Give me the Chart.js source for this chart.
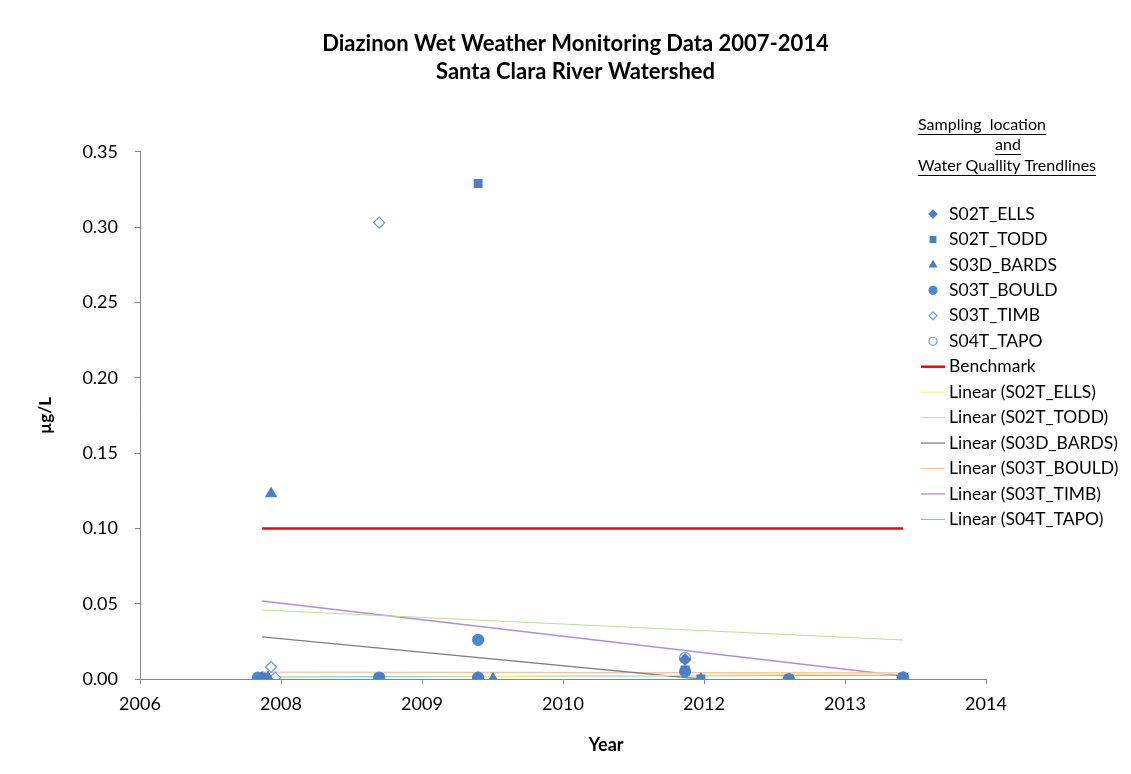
<!DOCTYPE html>
<html>
<head>
<meta charset="utf-8">
<script src="https://cdn.jsdelivr.net/npm/chart.js@4"></script>
<style>
  html, body { margin: 0; padding: 0; background: #fff; }
  #wrap { width: 1131px; height: 774px; position: relative; }
</style>
</head>
<body>
<div id="wrap"><canvas id="grafica"></canvas></div>
<script>
// x values are Excel date serials (days), y values in ug/L
var xTickValues = [39000, 39500, 40000, 40500, 41000, 41500, 42000];
var xTickLabels = ['2006', '2008', '2009', '2010', '2012', '2013', '2014'];

var ellsX = [39433, 40199, 40933];
var ellsY = [0.001, 0.001, 0.013];

var toddX = [39443, 39848, 40199, 40933, 40989, 41301, 41706];
var toddY = [0.001, 0.001, 0.329, 0.006, 0.000, 0.000, 0.001];

var bardsX = [39454, 39465, 40252, 40989];
var bardsY = [0.001, 0.123, 0.000, 0.000];

var bouldX = [39418, 39848, 40199, 40199, 40933, 41301, 41706];
var bouldY = [0.001, 0.001, 0.026, 0.001, 0.005, 0.000, 0.001];

var timbX = [39465, 39479, 39848, 41706];
var timbY = [0.008, 0.001, 0.303, 0.001];

var tapoX = [39433, 40933, 41706];
var tapoY = [0.001, 0.014, 0.001];

// benchmark and Excel linear trendlines (end points)
var benchX = [39433, 41706];
var benchY = [0.10, 0.10];
var trendEllsX = [39433, 41706];   var trendEllsY = [0.0005, 0.0035];
var trendToddX = [39433, 41706];   var trendToddY = [0.0458, 0.0259];
var trendBardsX = [39433, 40989];  var trendBardsY = [0.0280, 0.0000];
var trendBouldX = [39433, 41706];  var trendBouldY = [0.0046, 0.0040];
var trendTimbX = [39433, 41706];   var trendTimbY = [0.0518, 0.0020];
var trendTapoX = [39433, 41706];   var trendTapoY = [0.0013, 0.0025];

var legendTitle = ['Sampling  location', 'and', 'Water Quallity Trendlines'];
var xAxisTitle = 'Year';

function pts(xs, ys) {
    return xs.map(function (x, i) { return { x: x, y: ys[i] }; });
}

function markers(label, xs, ys, style, fill, stroke, radius) {
    return {
        label: label,
        data: pts(xs, ys),
        pointStyle: style,
        pointRadius: radius,
        pointBackgroundColor: fill,
        pointBorderColor: stroke,
        pointBorderWidth: 1.2,
        backgroundColor: fill,
        borderColor: stroke,
        showLine: false,
        order: 0
    };
}

function trend(label, xs, ys, color, width) {
    return {
        label: label,
        data: pts(xs, ys),
        showLine: true,
        borderColor: color,
        borderWidth: width,
        pointRadius: 0,
        fill: false,
        order: 1
    };
}

var blue = '#4A7EC6';
var datasets = [
    markers('S02T_ELLS', ellsX, ellsY, 'rectRot', blue, blue, 5.5),
    markers('S02T_TODD', toddX, toddY, 'rect', blue, blue, 5.5),
    markers('S03D_BARDS', bardsX, bardsY, 'triangle', blue, blue, 6),
    markers('S03T_BOULD', bouldX, bouldY, 'circle', '#4A88D6', '#4A88D6', 5.5),
    markers('S03T_TIMB', timbX, timbY, 'rectRot', '#ffffff', '#6A9BE0', 5.5),
    markers('S04T_TAPO', tapoX, tapoY, 'circle', '#ffffff', '#6A9BE0', 5.5),
    trend('Benchmark', benchX, benchY, '#FF0000', 2.5),
    trend('Linear (S02T_ELLS)', trendEllsX, trendEllsY, '#F4EE6E', 1),
    trend('Linear (S02T_TODD)', trendToddX, trendToddY, '#B9E08E', 1),
    trend('Linear (S03D_BARDS)', trendBardsX, trendBardsY, '#808080', 1.3),
    trend('Linear (S03T_BOULD)', trendBouldX, trendBouldY, '#F8C49E', 1.3),
    trend('Linear (S03T_TIMB)', trendTimbX, trendTimbY, '#B18FD8', 1.3),
    trend('Linear (S04T_TAPO)', trendTapoX, trendTapoY, '#5CC6EC', 1)
];

// legend drawn over the plot area, like the Excel one; x title sits off-centre too
var sideLegend = {
    id: 'sideLegend',
    afterDraw: function (chart) {
        var ctx = chart.ctx;
        ctx.save();
        ctx.textBaseline = 'middle';
        ctx.fillStyle = '#000';

        ctx.font = 'bold 18px Lato';
        ctx.textAlign = 'center';
        ctx.fillText(xAxisTitle, 606, 745);
        ctx.textAlign = 'left';

        ctx.font = '16px Lato';
        var titleY = [125, 145, 166];
        legendTitle.forEach(function (t, i) {
            var w = ctx.measureText(t).width;
            var x = i === 1 ? 995 : 918;
            ctx.fillText(t, x, titleY[i]);
            ctx.fillRect(x, titleY[i] + 9, w, 1);
        });
        ctx.font = '17.5px Lato';
        chart.data.datasets.forEach(function (ds, i) {
            var y = 214 + i * 25.45;
            if (ds.showLine) {
                ctx.strokeStyle = ds.borderColor;
                ctx.lineWidth = ds.borderWidth;
                ctx.beginPath();
                ctx.moveTo(921, y);
                ctx.lineTo(945, y);
                ctx.stroke();
            } else {
                ctx.fillStyle = ds.pointBackgroundColor;
                ctx.strokeStyle = ds.pointBorderColor;
                ctx.lineWidth = ds.pointBorderWidth;
                Chart.helpers.drawPoint(ctx, {
                    pointStyle: ds.pointStyle,
                    radius: 4,
                    rotation: 0,
                    borderWidth: ds.pointBorderWidth
                }, 933, y);
            }
            ctx.fillStyle = '#000';
            ctx.fillText(ds.label, 949, y);
        });
        ctx.restore();
    }
};

var ctx = document.getElementById('grafica').getContext('2d');
var chart = new Chart(ctx, {
    type: 'scatter',
    data: { datasets: datasets },
    plugins: [sideLegend],
    options: {
        responsive: true,
        maintainAspectRatio: false,
        animation: false,
        layout: { padding: { left: 20, right: 0, top: 0, bottom: 0 } },
        scales: {
            x: {
                type: 'linear',
                min: 39000,
                max: 42000,
                afterBuildTicks: function (scale) {
                    scale.ticks = xTickValues.map(function (v) { return { value: v }; });
                },
                afterFit: function (scale) { scale.height = 95; },
                ticks: {
                    font: { family: 'Lato', size: 18 },
                    color: '#000',
                    padding: 9,
                    maxRotation: 0,
                    callback: function (v, i) { return xTickLabels[i]; }
                },
                grid: { display: true, drawOnChartArea: false, tickLength: 5, color: '#868686' },
                border: { display: true, color: '#868686', width: 1 }
            },
            y: {
                min: 0,
                max: 0.35,
                afterFit: function (scale) { scale.width = 120; },
                ticks: {
                    stepSize: 0.05,
                    font: { family: 'Lato', size: 18 },
                    color: '#000',
                    padding: 17,
                    callback: function (v) { return v.toFixed(2); }
                },
                grid: { display: true, drawOnChartArea: false, tickLength: 5, color: '#868686' },
                border: { display: true, color: '#868686', width: 1 },
                title: {
                    display: true,
                    text: 'µg/L',
                    font: { family: 'Lato', size: 17, weight: 'bold' },
                    color: '#000',
                    padding: { top: 15, bottom: 0 }
                }
            },
            // empty right-hand axis that only reserves the space behind the legend
            yRight: {
                type: 'linear',
                position: 'right',
                afterFit: function (scale) { scale.width = 145; },
                ticks: { display: false },
                grid: { display: false },
                border: { display: false }
            }
        },
        plugins: {
            legend: { display: false },
            tooltip: { enabled: false },
            title: {
                display: true,
                text: ['Diazinon Wet Weather Monitoring Data 2007-2014', 'Santa Clara River Watershed'],
                font: { family: 'Lato', size: 22, weight: 'bold', lineHeight: 1.27 },
                color: '#000',
                padding: { top: 30, bottom: 66 }
            }
        }
    }
});
</script>
</body>
</html>
